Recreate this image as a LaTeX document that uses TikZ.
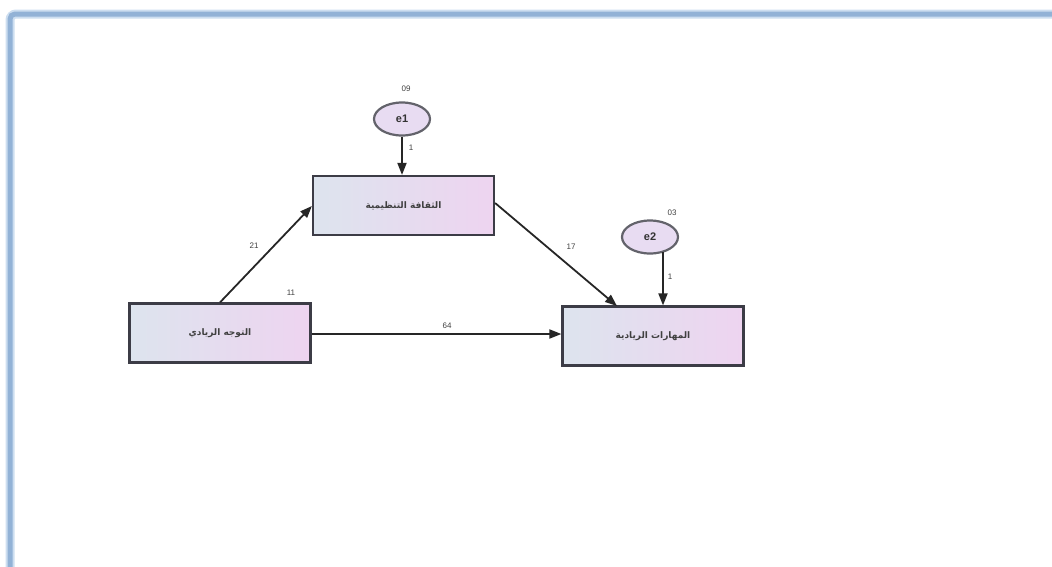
\documentclass[tikz,border=0pt]{standalone}
\usepackage{fontspec}
\setmainfont{Liberation Sans}
\newfontfamily\arabicfont[Script=Arabic]{DejaVu Sans}
\TeXXeTstate=1
\usetikzlibrary{arrows.meta,shapes.geometric}
\definecolor{boxL}{RGB}{221,228,238}
\definecolor{boxR}{RGB}{238,212,240}
\definecolor{ellF}{RGB}{232,220,242}
\definecolor{frameC}{RGB}{146,178,214}
\definecolor{frameG}{RGB}{205,222,240}
\definecolor{edge}{RGB}{60,60,70}
\tikzset{
  var/.style={draw=edge, line width=2.2pt, left color=boxL, right color=boxR,
    minimum width=181pt, minimum height=59pt, inner sep=0pt,
    font=\arabicfont\fontsize{9}{11}\selectfont\bfseries, text=black!75},
  err/.style={ellipse, draw=edge!80, line width=2.2pt, fill=ellF,
    minimum width=56pt, minimum height=33pt, inner sep=0pt,
    font=\fontsize{11}{12}\selectfont\bfseries, text=black!80},
  conn/.style={draw=black!85, line width=1.8pt, -{Triangle[length=12pt,width=9pt]}},
  num/.style={font=\fontsize{8}{9}\selectfont, text=black!75, inner sep=1pt}
}
\begin{document}
\begin{tikzpicture}[x=1pt,y=-1pt]
\useasboundingbox (0,0) rectangle (1052,566);
% frame
\draw[frameG, line width=9pt, rounded corners=6pt] (10,570) -- (10,14) -- (1060,14);
\draw[frameC, line width=5pt, rounded corners=5pt] (10,570) -- (10,14) -- (1060,14);
% nodes
\node[var] (cult) at (403.5,205.5) {\beginR الثقافة التنظيمية\endR};
\node[var] (orient) at (220,333) {\beginR التوجه الريادي\endR};
\node[var] (skill) at (653,336) {\beginR المهارات الريادية\endR};
\node[err] (e1) at (402,119) {e1};
\node[err] (e2) at (650,237) {e2};
\coordinate (e2b) at (663,252);
% connectors
\draw[conn] (e1.south) -- (cult.north -| e1.south);
\draw[conn] (e2b) -- (e2b |- skill.north);
\draw[conn] (orient.north) -- (cult.west |- 0,206);
\draw[conn] (orient.east |- 0,334) -- (skill.west |- 0,334);
\draw[conn] (cult.east |- 0,203) -- (617,306);
% labels
\node[num] (n09) at (406,89) {09};
\node[num] (n03) at (672,213) {03};
\node[num] (n11) at (291,293) {11};
\node[num] (n21) at (254,246) {21};
\node[num] (n17) at (571,247) {17};
\node[num] (n64) at (447,326) {64};
\node[num] (n1a) at (411,148) {1};
\node[num] (n1b) at (670,277) {1};
\end{tikzpicture}
\end{document}
